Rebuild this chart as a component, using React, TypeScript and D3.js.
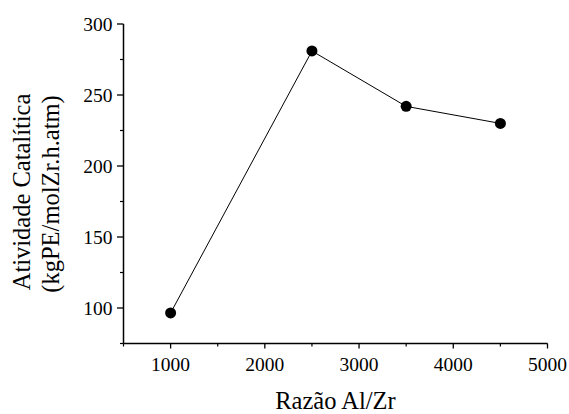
import React from "react";
import * as d3 from "d3";

const ratios = [1000, 2500, 3500, 4500];
const activity = [96.5, 281, 242, 230];
const xMajorTicks = [1000, 2000, 3000, 4000, 5000];
const xMinorTicks = [500, 1500, 2500, 3500, 4500];
const yMajorTicks = [100, 150, 200, 250, 300];
const yMinorTicks = [75, 125, 175, 225, 275];
const xTitle = "Razão Al/Zr";
const yTitle1 = "Atividade Catalítica";
const yTitle2 = "(kgPE/molZr.h.atm)";

const W = 569;
const H = 414;
const FONT = "'Liberation Serif', 'Times New Roman', serif";

export default function App() {
  const x = d3.scaleLinear().domain([500, 5000]).range([123.5, 547.5]);
  const y = d3.scaleLinear().domain([75, 300]).range([343.5, 24]);
  const pts = ratios.map((r, i) => [r, activity[i]] as [number, number]);
  const line = d3
    .line<[number, number]>()
    .x((d) => x(d[0]))
    .y((d) => y(d[1]));
  const x0 = x.range()[0];
  const y0 = y.range()[0];

  return (
    <svg
      width={W}
      height={H}
      style={{ position: "absolute", left: 0, top: 0, background: "#fff" }}
      fontFamily={FONT}
    >
      <rect x={0} y={0} width={W} height={H} fill="#fff" />
      {/* y axis */}
      <line x1={x0} x2={x0} y1={y(300)} y2={y0} stroke="#000" strokeWidth={1.5} />
      {yMajorTicks.map((t) => (
        <g key={"ym" + t}>
          <line x1={x0 - 6.5} x2={x0} y1={y(t)} y2={y(t)} stroke="#000" strokeWidth={1.3} />
          <text
            x={x0 - 11}
            y={y(t)}
            dy="0.34em"
            textAnchor="end"
            fontSize={19.5}
            fill="#000"
          >
            {t}
          </text>
        </g>
      ))}
      {yMinorTicks.map((t) => (
        <line key={"yn" + t} x1={x0 - 3.5} x2={x0} y1={y(t)} y2={y(t)} stroke="#000" strokeWidth={1.2} />
      ))}
      {/* x axis */}
      <line x1={x0} x2={x.range()[1]} y1={y0} y2={y0} stroke="#000" strokeWidth={1.5} />
      {xMajorTicks.map((t) => (
        <g key={"xm" + t}>
          <line x1={x(t)} x2={x(t)} y1={y0} y2={y0 + 5} stroke="#000" strokeWidth={1.3} />
          <text x={x(t)} y={370.5} textAnchor="middle" fontSize={19.5} fill="#000">
            {t}
          </text>
        </g>
      ))}
      {xMinorTicks.map((t) => (
        <line key={"xn" + t} x1={x(t)} x2={x(t)} y1={y0} y2={y0 + 3} stroke="#000" strokeWidth={1.2} />
      ))}
      {/* data */}
      <path d={line(pts) || ""} fill="none" stroke="#000" strokeWidth={1} />
      {pts.map((p, i) => (
        <circle key={i} cx={x(p[0])} cy={y(p[1])} r={5.5} fill="#000" />
      ))}
      {/* titles */}
      <text x={(x.range()[0] + x.range()[1]) / 2} y={408.5} textAnchor="middle" fontSize={24.5} fill="#000">
        {xTitle}
      </text>
      <text transform="translate(30,192) rotate(-90)" textAnchor="middle" fontSize={24.5} fill="#000">
        {yTitle1}
      </text>
      <text transform="translate(59,194) rotate(-90)" textAnchor="middle" fontSize={24.5} fill="#000">
        {yTitle2}
      </text>
    </svg>
  );
}
